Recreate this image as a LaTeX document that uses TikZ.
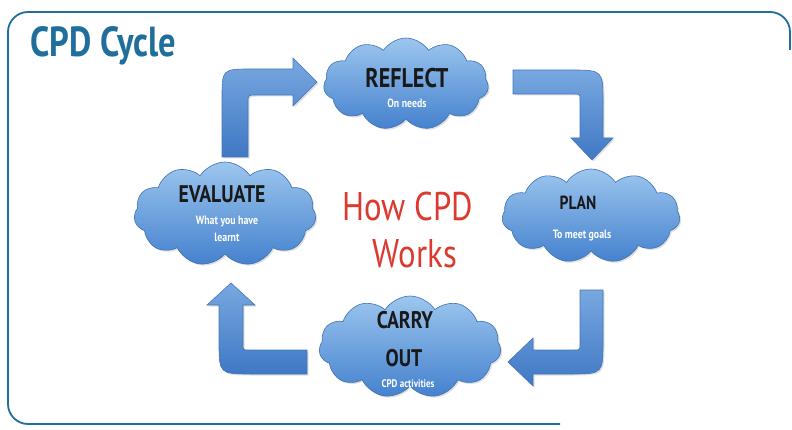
\documentclass[tikz,border=0pt]{standalone}
\usepackage{fontspec}
\setmainfont{PT Sans}
\newfontfamily\hand[FakeStretch=0.82]{PT Sans}
\usetikzlibrary{shapes.symbols,shadows}
\definecolor{frame}{HTML}{1F6E9C}
\definecolor{howred}{HTML}{DC3A2E}
\definecolor{cloudtop}{HTML}{9CC6EE}
\definecolor{cloudbot}{HTML}{4481CE}
\definecolor{cloudedge}{HTML}{3F72B4}
\definecolor{arrowtop}{HTML}{78A8E0}
\definecolor{arrowbot}{HTML}{3F78C4}
\definecolor{arrowedge}{HTML}{4476B8}
\tikzset{
  cloudbox/.style={cloud, cloud puffs=11, cloud puff arc=115, aspect=1.9,
    inner sep=0pt, top color=cloudtop, bottom color=cloudbot,
    draw=cloudedge, line width=0.6pt,
    drop shadow={opacity=0.25, shadow xshift=1.5pt, shadow yshift=-1.5pt}},
  arrowshape/.style={top color=arrowtop, bottom color=arrowbot,
    draw=arrowedge, line width=0.6pt,
    drop shadow={opacity=0.25, shadow xshift=1.5pt, shadow yshift=-1.5pt}},
  head/.style={text=black!90, anchor=base, inner sep=0pt},
  sub/.style={text=white, anchor=base, inner sep=0pt}
}
\begin{document}
\begin{tikzpicture}[x=1pt,y=-1pt]
\useasboundingbox (0,0) rectangle (792,430);
\fill[white] (0,0) rectangle (792,430);
% frame
\draw[frame, line width=1.8pt, rounded corners=20pt]
  (790,50) -- (790,12) -- (8,12) -- (8,424) -- (560,424);
% title
\node[text=frame, anchor=base west, inner sep=0pt] (title) at (30,57)
  {\hand\bfseries\fontsize{42}{46}\selectfont CPD Cycle};
% arrows
\shade[arrowshape] (222,157) -- (222,99) .. controls (222,69) .. (252,69)
  -- (293,69) -- (293,58) -- (317,82) -- (293,106) -- (293,95) -- (256,95)
  .. controls (248,95) .. (248,103) -- (248,157) -- cycle;
\shade[arrowshape] (513,70) -- (570,70) .. controls (603,70) .. (603,103)
  -- (603,138) -- (613,138) -- (592,160) -- (571,138) -- (580,138)
  -- (580,100) .. controls (580,94) .. (574,94) -- (513,94) -- cycle;
\shade[arrowshape] (580,290) -- (603,290) -- (603,341) .. controls (603,374) .. (570,374)
  -- (533,374) -- (533,386) -- (508,362) -- (533,338) -- (533,350)
  -- (574,350) .. controls (580,350) .. (580,344) -- cycle;
\shade[arrowshape] (307,350) -- (249,350) .. controls (243,350) .. (243,344)
  -- (243,305) -- (255,305) -- (231,283) -- (207,305) -- (219,305)
  -- (219,341) .. controls (219,374) .. (252,374) -- (307,374) -- cycle;
% clouds
\node[cloudbox, minimum width=165pt, minimum height=92pt] (reflect) at (406,84) {};
\node[cloudbox, minimum width=182pt, minimum height=104pt] (evaluate) at (225,214) {};
\node[cloudbox, minimum width=178pt, minimum height=94pt] (plan) at (591,216) {};
\node[cloudbox, minimum width=182pt, minimum height=102pt] (carry) at (410,347) {};
% cloud texts
\node[head] (t1) at (407,88) {\hand\bfseries\fontsize{27}{30}\selectfont REFLECT};
\node[sub] (s1) at (407,108) {\hand\bfseries\fontsize{12}{14}\selectfont On needs};
\node[head] (t2) at (222,203) {\hand\bfseries\fontsize{24}{27}\selectfont EVALUATE};
\node[sub] (s2a) at (227,225) {\hand\bfseries\fontsize{12}{15}\selectfont What you have};
\node[sub] (s2b) at (227,242) {\hand\bfseries\fontsize{12}{15}\selectfont learnt};
\node[head] (t3) at (578,210) {\hand\bfseries\fontsize{19}{22}\selectfont PLAN};
\node[sub] (s3) at (582,239) {\hand\bfseries\fontsize{12}{15}\selectfont To meet goals};
\node[head] (t4a) at (405,328) {\hand\bfseries\fontsize{24}{27}\selectfont CARRY};
\node[head] (t4b) at (404,366) {\hand\bfseries\fontsize{24}{27}\selectfont OUT};
\node[sub] (s4) at (408,387) {\hand\bfseries\fontsize{11}{14}\selectfont CPD activities};
% centre
\node[text=howred, anchor=base, inner sep=0pt] (how) at (408,221)
  {\hand\fontsize{40}{42}\selectfont How CPD};
\node[text=howred, anchor=base, inner sep=0pt] (works) at (415,268)
  {\hand\fontsize{40}{42}\selectfont Works};
\end{tikzpicture}
\end{document}
